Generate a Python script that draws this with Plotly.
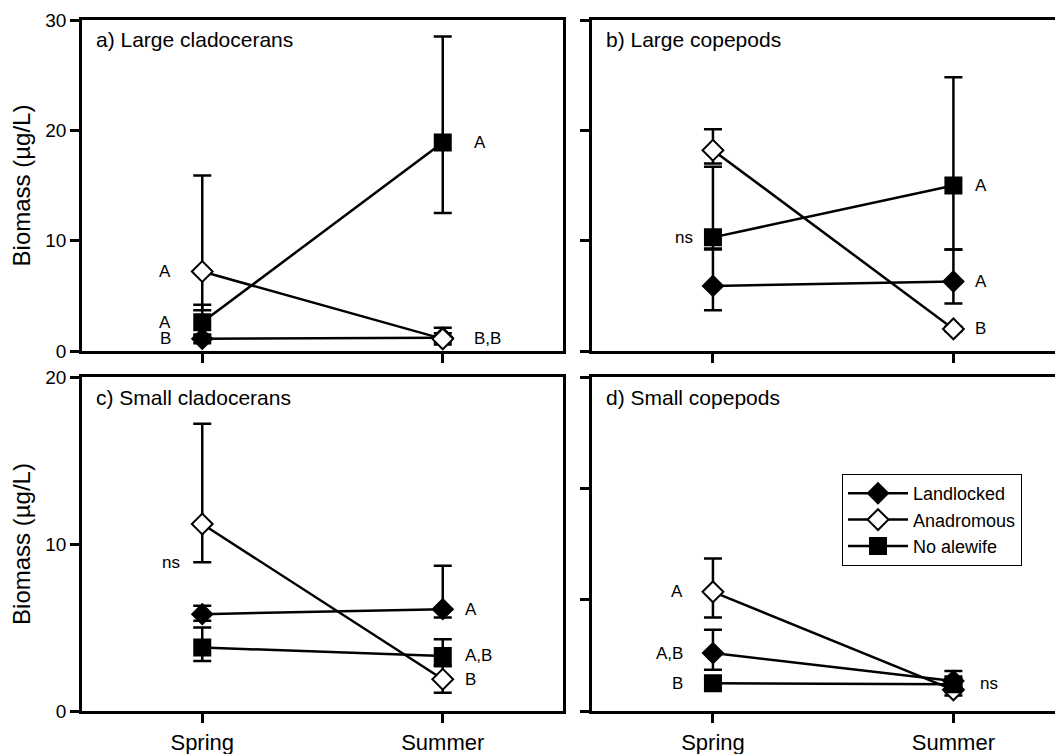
import plotly.graph_objects as go

W, H = 1063, 754
OFF = 8  # page body margin offset of the plot div
FONT = "Liberation Sans, Arial, Helvetica, sans-serif"

seasons = ["Spring", "Summer"]
xpos = [0, 1]
groups = ["Landlocked", "Anadromous", "No alewife"]

# ---- a) Large cladocerans (µg/L) ----
a_land = [1.1, 1.2]
a_land_up = [0.4, 0.4]
a_land_dn = [0.4, 0.4]
a_anad = [7.2, 1.1]
a_anad_up = [8.7, 1.0]
a_anad_dn = [3.5, 0.5]
a_none = [2.6, 18.9]
a_none_up = [1.6, 9.6]
a_none_dn = [1.2, 6.4]

# ---- b) Large copepods ----
b_land = [5.9, 6.3]
b_land_up = [3.3, 2.9]
b_land_dn = [2.2, 2.0]
b_anad = [18.2, 2.0]
b_anad_up = [1.9, 0.2]
b_anad_dn = [1.2, 0.2]
b_none = [10.3, 15.0]
b_none_up = [6.4, 9.8]
b_none_dn = [1.0, 5.8]

# ---- c) Small cladocerans ----
c_land = [5.8, 6.1]
c_land_up = [0.5, 2.6]
c_land_dn = [0.4, 0.5]
c_anad = [11.2, 1.9]
c_anad_up = [6.0, 0.8]
c_anad_dn = [2.3, 0.8]
c_none = [3.8, 3.3]
c_none_up = [1.2, 1.0]
c_none_dn = [0.8, 0.6]

# ---- d) Small copepods ----
d_land = [0.52, 0.27]
d_land_up = [0.21, 0.09]
d_land_dn = [0.15, 0.05]
d_anad = [1.07, 0.19]
d_anad_up = [0.30, 0.05]
d_anad_dn = [0.23, 0.05]
d_none = [0.25, 0.24]
d_none_up = [0.05, 0.05]
d_none_dn = [0.05, 0.05]

panel_titles = ["a) Large cladocerans", "b) Large copepods",
                "c) Small cladocerans", "d) Small copepods"]

# significance letters: (season index, y value, text)
a_letters = [(0, 7.2, "A"), (0, 2.6, "A"), (0, 1.1, "B"), (1, 18.9, "A"), (1, 1.1, "B,B")]
b_letters = [(0, 10.3, "ns"), (1, 15.0, "A"), (1, 6.3, "A"), (1, 2.0, "B")]
c_letters = [(0, 8.9, "ns"), (1, 6.1, "A"), (1, 3.3, "A,B"), (1, 1.9, "B")]
d_letters = [(0, 1.07, "A"), (0, 0.52, "A,B"), (0, 0.25, "B"), (1, 0.25, "ns")]

a_yticks = [0, 10, 20, 30]
b_yticks = [0, 10, 20, 30]
c_yticks = [0, 10, 20]
d_yticks = [0, 1, 2, 3]

panels = [
    dict(data=[(a_land, a_land_up, a_land_dn), (a_anad, a_anad_up, a_anad_dn), (a_none, a_none_up, a_none_dn)],
         letters=a_letters, yrange=[0, 30], ticks=a_yticks, labels=True,
         xdom=[82, 563], ydom=[20, 351], xr=[-0.5, 1.5], gapL=29, gapR=29, bottom=False),
    dict(data=[(b_land, b_land_up, b_land_dn), (b_anad, b_anad_up, b_anad_dn), (b_none, b_none_up, b_none_dn)],
         letters=b_letters, yrange=[0, 30], ticks=b_yticks, labels=False,
         xdom=[592, 1071], ydom=[20, 351], xr=[-0.503, 1.489], gapL=18, gapR=20, bottom=False),
    dict(data=[(c_land, c_land_up, c_land_dn), (c_anad, c_anad_up, c_anad_dn), (c_none, c_none_up, c_none_dn)],
         letters=c_letters, yrange=[0, 20], ticks=c_yticks, labels=True,
         xdom=[82, 563], ydom=[377, 711], xr=[-0.5, 1.5], gapL=20, gapR=20, bottom=True),
    dict(data=[(d_land, d_land_up, d_land_dn), (d_anad, d_anad_up, d_anad_dn), (d_none, d_none_up, d_none_dn)],
         letters=d_letters, yrange=[0, 3], ticks=d_yticks, labels=False,
         xdom=[592, 1071], ydom=[377, 711], xr=[-0.503, 1.489], gapL=28, gapR=25, bottom=True),
]

styles = [
    dict(symbol="diamond", color="black", line=dict(color="black", width=1.5), size=16),
    dict(symbol="diamond", color="white", line=dict(color="black", width=2), size=16),
    dict(symbol="square", color="black", line=dict(color="black", width=2), size=16),
]

fig = go.Figure()
layout = dict(width=W, height=H, margin=dict(l=0, r=0, t=0, b=0, autoexpand=False),
              paper_bgcolor="white", plot_bgcolor="white",
              font=dict(family=FONT, color="black", size=18),
              showlegend=True)
annotations = []


def fx(px):
    return min(max((px - OFF) / W, 0.0), 1.0)


def fy(px):
    return min(max((H - (px - OFF)) / H, 0.0), 1.0)


for i, p in enumerate(panels):
    k = "" if i == 0 else str(i + 1)
    xa, ya = "x" + k, "y" + k
    for g, (vals, up, dn) in enumerate(p["data"]):
        fig.add_trace(go.Scatter(
            x=xpos, y=vals, xaxis=xa, yaxis=ya, mode="lines+markers",
            name=groups[g], showlegend=(i == 0),
            line=dict(color="black", width=2.5),
            marker=styles[g], cliponaxis=False,
            error_y=dict(type="data", symmetric=False, array=up, arrayminus=dn,
                         color="black", thickness=2.5, width=9),
        ))
    xd = [fx(p["xdom"][0]), fx(p["xdom"][1])]
    yd = [fy(p["ydom"][1]), fy(p["ydom"][0])]
    layout["xaxis" + k] = dict(
        domain=xd, range=p["xr"], anchor=ya, tickvals=xpos, ticktext=seasons,
        showticklabels=p["bottom"], ticks="outside", ticklen=9, tickwidth=2.5,
        tickcolor="black", showline=True, linecolor="black", linewidth=2.5,
        mirror=True, showgrid=False, zeroline=False, automargin=False,
        tickfont=dict(family=FONT, size=22), ticklabelstandoff=1)
    layout["yaxis" + k] = dict(
        domain=yd, range=p["yrange"], anchor=xa, tickvals=p["ticks"],
        showticklabels=p["labels"], ticks="outside", ticklen=9, tickwidth=2.5,
        tickcolor="black", showline=True, linecolor="black", linewidth=2.5,
        mirror=p["labels"], showgrid=False, zeroline=False, automargin=False,
        tickfont=dict(family=FONT, size=19),
        title=dict(text="Biomass (µg/L)" if p["labels"] else "",
                   font=dict(family=FONT, size=24), standoff=10))
    annotations.append(dict(
        text=panel_titles[i], xref=xa + " domain", yref=ya + " domain",
        x=12 / (p["xdom"][1] - p["xdom"][0]), y=1 - 20 / (p["ydom"][1] - p["ydom"][0]),
        xanchor="left", yanchor="middle", showarrow=False,
        font=dict(family=FONT, size=21)))
    for (s, yv, txt) in p["letters"]:
        left = s == 0
        annotations.append(dict(
            text=txt, xref=xa, yref=ya, x=xpos[s], y=yv,
            xanchor="right" if left else "left", yanchor="middle",
            xshift=-p["gapL"] if left else p["gapR"], showarrow=False,
            font=dict(family=FONT, size=17)))

layout["annotations"] = annotations
layout["legend"] = dict(x=fx(842), y=fy(474), xanchor="left", yanchor="top",
                        bordercolor="black", borderwidth=1, bgcolor="white",
                        tracegroupgap=0, itemwidth=60,
                        font=dict(family=FONT, size=18))
fig.update_layout(**layout)
fig.write_html("out.html")
